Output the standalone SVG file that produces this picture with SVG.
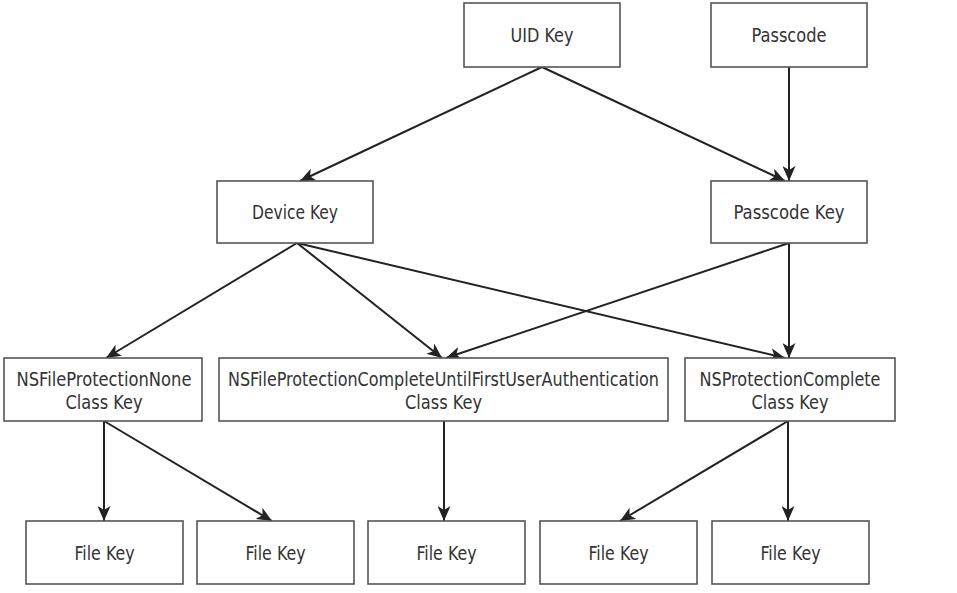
<svg xmlns="http://www.w3.org/2000/svg" width="957" height="593" viewBox="0 0 957 593">
  <style>
    .box { fill: #ffffff; stroke: #555555; stroke-width: 1.6; }
    .lbl { font-family: "Liberation Sans Narrow", "DejaVu Sans Condensed", "Liberation Sans", sans-serif; font-size: 19px; fill: #333333; text-anchor: middle; }
    .edge { stroke: #222222; stroke-width: 2; fill: none; marker-end: url(#arrow); }
  </style>
  <defs>
    <marker id="arrow" viewBox="0 0 15 13" markerWidth="15" markerHeight="13" refX="15" refY="6.5" orient="auto" markerUnits="userSpaceOnUse">
      <path d="M0,0 L15,6.5 L0,13 L4,6.5 z" fill="#222222"/>
    </marker>
  </defs>
  <rect x="0" y="0" width="957" height="593" fill="#ffffff"/>

  <g id="connectors">
    <line class="edge" x1="542" y1="67" x2="300" y2="181"/>
    <line class="edge" x1="542" y1="67" x2="785" y2="181"/>
    <line class="edge" x1="789" y1="67" x2="789" y2="181"/>
    <line class="edge" x1="297" y1="243" x2="106" y2="358"/>
    <line class="edge" x1="297" y1="243" x2="442" y2="358"/>
    <line class="edge" x1="297" y1="243" x2="785" y2="358"/>
    <line class="edge" x1="789" y1="243" x2="446" y2="358"/>
    <line class="edge" x1="789" y1="243" x2="789" y2="358"/>
    <line class="edge" x1="104" y1="421" x2="104" y2="521"/>
    <line class="edge" x1="104" y1="421" x2="272" y2="521"/>
    <line class="edge" x1="444" y1="421" x2="444" y2="521"/>
    <line class="edge" x1="788" y1="421" x2="620" y2="521"/>
    <line class="edge" x1="788" y1="421" x2="788" y2="521"/>
  </g>

  <g id="uid-key">
    <rect class="box" x="464" y="3" width="156" height="64"/>
    <text class="lbl" x="542" y="42" textLength="63" lengthAdjust="spacingAndGlyphs">UID Key</text>
  </g>
  <g id="passcode">
    <rect class="box" x="711" y="3" width="156" height="64"/>
    <text class="lbl" x="789" y="42" textLength="75" lengthAdjust="spacingAndGlyphs">Passcode</text>
  </g>
  <g id="device-key">
    <rect class="box" x="217" y="181" width="156" height="62"/>
    <text class="lbl" x="295" y="219" textLength="86" lengthAdjust="spacingAndGlyphs">Device Key</text>
  </g>
  <g id="passcode-key">
    <rect class="box" x="711" y="181" width="156" height="62"/>
    <text class="lbl" x="789" y="219" textLength="111" lengthAdjust="spacingAndGlyphs">Passcode Key</text>
  </g>

  <g id="class-none">
    <rect class="box" x="4" y="358" width="198" height="63"/>
    <text class="lbl" x="104" y="386" textLength="175" lengthAdjust="spacingAndGlyphs">NSFileProtectionNone</text>
    <text class="lbl" x="104" y="409" textLength="77" lengthAdjust="spacingAndGlyphs">Class Key</text>
  </g>
  <g id="class-cufua">
    <rect class="box" x="219" y="358" width="449" height="63"/>
    <text class="lbl" x="443.5" y="386" textLength="431" lengthAdjust="spacingAndGlyphs">NSFileProtectionCompleteUntilFirstUserAuthentication</text>
    <text class="lbl" x="443.5" y="409" textLength="77" lengthAdjust="spacingAndGlyphs">Class Key</text>
  </g>
  <g id="class-complete">
    <rect class="box" x="685" y="358" width="210" height="63"/>
    <text class="lbl" x="790" y="386" textLength="181" lengthAdjust="spacingAndGlyphs">NSProtectionComplete</text>
    <text class="lbl" x="790" y="409" textLength="77" lengthAdjust="spacingAndGlyphs">Class Key</text>
  </g>

  <g id="file-key-1">
    <rect class="box" x="26" y="521" width="157" height="63"/>
    <text class="lbl" x="104.5" y="560" textLength="60" lengthAdjust="spacingAndGlyphs">File Key</text>
  </g>
  <g id="file-key-2">
    <rect class="box" x="197" y="521" width="157" height="63"/>
    <text class="lbl" x="275.5" y="560" textLength="60" lengthAdjust="spacingAndGlyphs">File Key</text>
  </g>
  <g id="file-key-3">
    <rect class="box" x="368" y="521" width="157" height="63"/>
    <text class="lbl" x="446.5" y="560" textLength="60" lengthAdjust="spacingAndGlyphs">File Key</text>
  </g>
  <g id="file-key-4">
    <rect class="box" x="540" y="521" width="157" height="63"/>
    <text class="lbl" x="618.5" y="560" textLength="60" lengthAdjust="spacingAndGlyphs">File Key</text>
  </g>
  <g id="file-key-5">
    <rect class="box" x="712" y="521" width="157" height="63"/>
    <text class="lbl" x="790.5" y="560" textLength="60" lengthAdjust="spacingAndGlyphs">File Key</text>
  </g>
</svg>
